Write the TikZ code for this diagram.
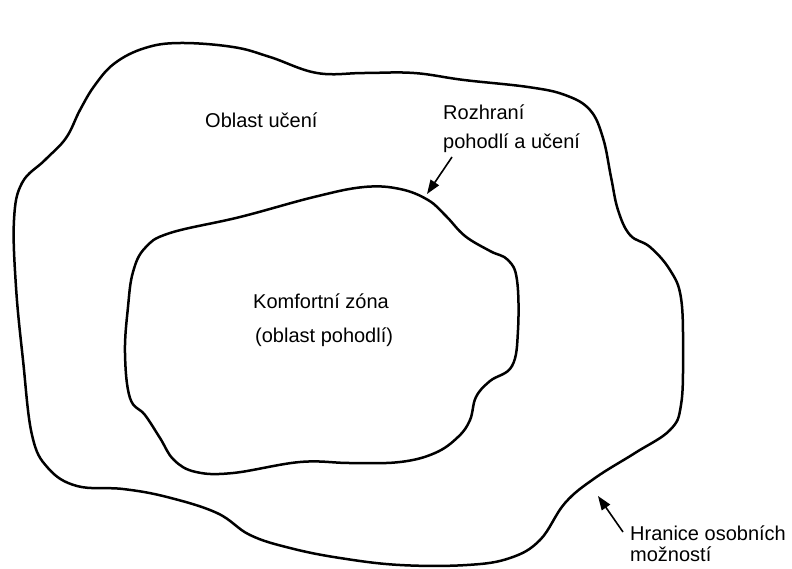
\documentclass[tikz,border=0pt]{standalone}
\usepackage{fontspec}
\setmainfont{Liberation Sans}
\usetikzlibrary{arrows.meta}
\tikzset{
  zone/.style={line width=2.5pt, line join=round},
  lbl/.style={anchor=base west, inner sep=0pt, font=\fontsize{20}{24}\selectfont},
  pointer/.style={line width=1.6pt, -{Triangle[length=14pt,width=10pt]}}
}
\begin{document}
\begin{tikzpicture}[x=1pt,y=-1pt]
\useasboundingbox (0,0) rectangle (792,568);
% outer boundary
\draw[zone] plot[smooth cycle, tension=0.65] coordinates {
(180,43) (233,47) (270,57) (317,73) (364,73) (414,73) (464,80)
(528,87) (565,95) (590,110) (603,138) (611,177) (618,210) (630,235)
(650,247) (670,270) (681,298) (683,353) (681,405) (670,430)
(635,453) (595,478) (565,503) (540,540) (510,558) (467,565) (400,565)
(340,558) (290,548) (250,535) (217,513) (167,497) (123,489) (77,486)
(48,468) (32,435) (23,360) (16,287) (14,220) (22,183)
(45,160) (66,138) (80,110) (95,85) (115,63) (145,48)};
% inner comfort zone
\draw[zone] plot[smooth cycle, tension=0.65] coordinates {
(364,187) (400,189) (428,200) (446,216) (465,236) (490,251) (508,260)
(517,280) (518,330) (512,366) (490,381) (476,397) (470,420)
(458,437) (435,453) (400,462) (350,463) (300,462) (233,473) (196,472)
(174,460) (160,438) (145,415) (130,398) (125,353) (128,307) (133,272)
(145,248) (170,233) (240,217) (314,197)};
% labels
\node[lbl] (learn) at (205,127) {Oblast učení};
\node[lbl] (iface1) at (443,119) {Rozhraní};
\node[lbl] (iface2) at (443,148) {pohodlí a učení};
\node[lbl] (comf1) at (253,308) {Komfortní zóna};
\node[lbl] (comf2) at (255,342) {(oblast pohodlí)};
\node[lbl] (lim1) at (630,540) {Hranice osobních};
\node[lbl] (lim2) at (630,561) {možností};
% arrows
\coordinate (a1s) at (452,157);
\coordinate (a1e) at (427,194);
\coordinate (a2s) at (623,532);
\coordinate (a2e) at (598,496);
\draw[pointer] (a1s) -- (a1e);
\draw[pointer] (a2s) -- (a2e);
\end{tikzpicture}
\end{document}
